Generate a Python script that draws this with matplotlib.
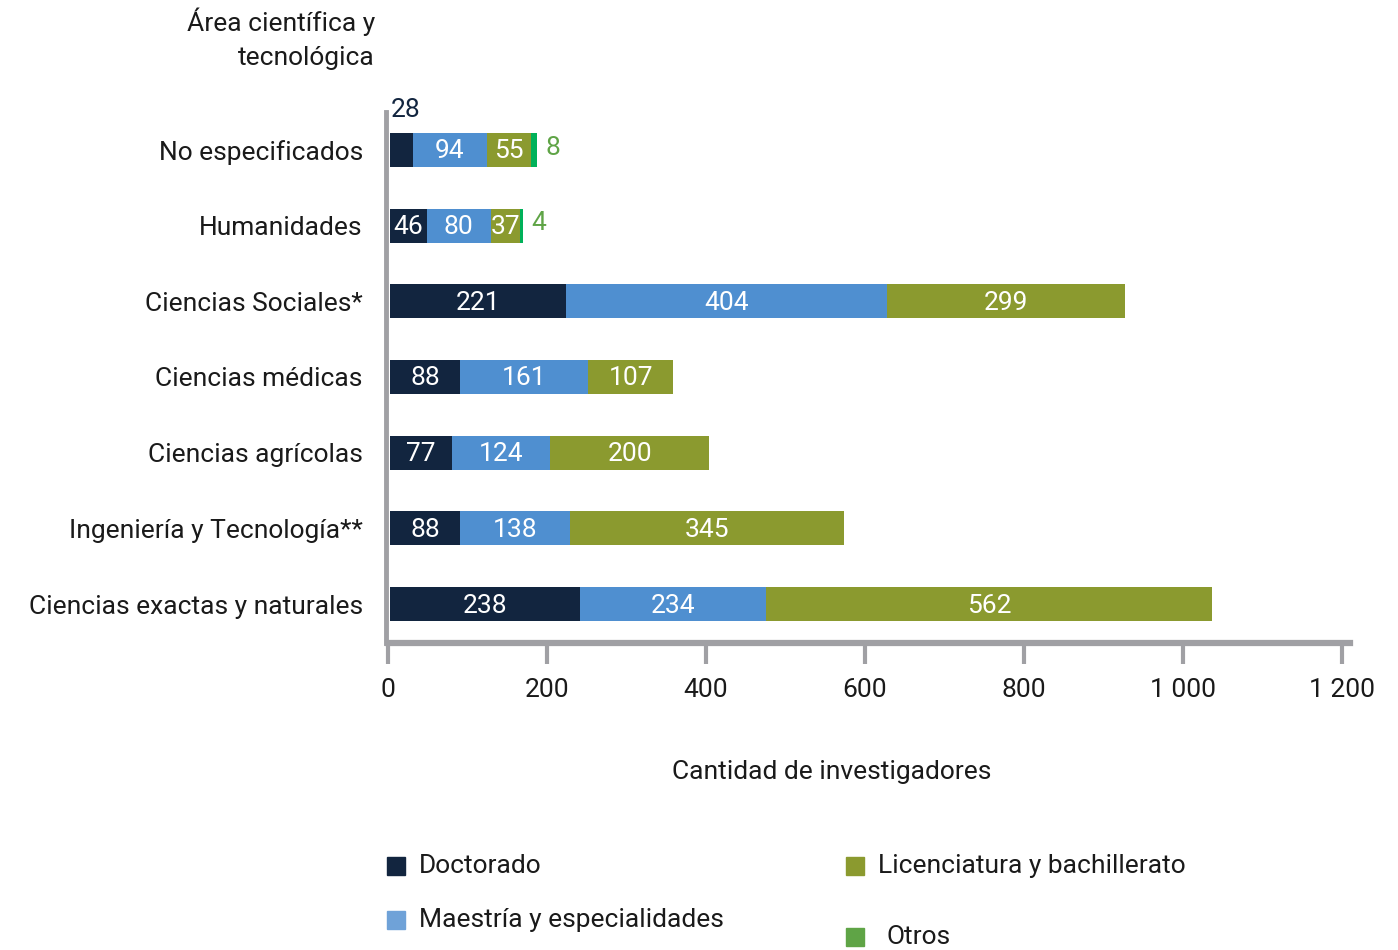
import matplotlib.pyplot as plt
import matplotlib.patches as mpatches
import numpy as np

plt.rcParams['font.family'] = ['Roboto', 'DejaVu Sans']

# datos (de abajo hacia arriba)
areas = ['Ciencias exactas y naturales', 'Ingeniería y Tecnología**', 'Ciencias agrícolas',
         'Ciencias médicas', 'Ciencias Sociales*', 'Humanidades', 'No especificados']
doctorado = [238, 88, 77, 88, 221, 46, 28]
maestria = [234, 138, 124, 161, 404, 80, 94]
licenciatura = [562, 345, 200, 107, 299, 37, 55]
otros = [0, 0, 0, 0, 0, 4, 8]

series = ['Doctorado', 'Maestría y especialidades', 'Licenciatura y bachillerato', 'Otros']
bar_colors = ['#12253f', '#4f8fd0', '#8b9a2f', '#00b15a']
legend_colors = ['#12253f', '#6fa2d8', '#8b9a2f', '#5fa446']
ticks = [0, 200, 400, 600, 800, 1000, 1200]
tick_labels = ['0', '200', '400', '600', '800', '1 000', '1 200']

gray = '#a0a0a4'
text_color = '#1a1a1a'
fs = 19

fig = plt.figure(figsize=(13.98, 9.5), dpi=100)
ax = fig.add_axes([388 / 1398, 1 - 643 / 950, (1350 - 388) / 1398, (643 - 112) / 950])

# ejes primero: set_position reinicia los ticks
for s in ['top', 'right']:
    ax.spines[s].set_visible(False)
ax.spines['bottom'].set_color(gray)
ax.spines['bottom'].set_linewidth(4.5)
ax.spines['left'].set_color(gray)
ax.spines['left'].set_linewidth(3.5)
ax.spines['left'].set_position(('data', -2))

y = np.arange(len(areas))
left = np.zeros(len(areas))
for vals, col in zip([doctorado, maestria, licenciatura, otros], bar_colors):
    vals = np.array(vals)
    ax.barh(y, vals, left=left + 3, height=0.45, color=col, linewidth=0)
    for i, v in enumerate(vals):
        if v == 0:
            continue
        cx = left[i] + 3 + v / 2
        if col == bar_colors[3]:
            ax.text(left[i] + 3 + v + 10, y[i] + 0.03, str(v), color='#5fa446',
                    fontsize=fs, ha='left', va='center')
        elif i == 6 and col == bar_colors[0]:
            ax.text(left[i] + 3, y[i] + 0.52, str(v), color='#12253f',
                    fontsize=fs, ha='left', va='center')
        else:
            ax.text(cx, y[i] - 0.02, str(v), color='white', fontsize=fs,
                    ha='center', va='center')
    left = left + vals

ax.set_xlim(0, 1210)
ax.set_ylim(-0.515, 6.5)
ax.set_yticks(y)
ax.set_yticklabels(areas)
ax.tick_params(axis='y', length=0, pad=17, labelsize=fs, labelcolor=text_color)
ax.set_xticks(ticks)
ax.set_xticklabels(tick_labels)
ax.tick_params(axis='x', length=15, width=3, color=gray, pad=10, labelsize=fs,
               labelcolor=text_color)

fig.text(375 / 1398, 1 - 8 / 950, 'Área científica y\ntecnológica', ha='right', va='top',
         fontsize=fs, color=text_color, linespacing=1.5)
fig.text(832 / 1398, 1 - 772 / 950, 'Cantidad de investigadores', ha='center', va='center',
         fontsize=fs, color=text_color)

# leyenda manual
legend_pos = [(387, 866), (387, 920), (846, 866), (846, 937)]
for (px, py), name, col in zip(legend_pos, series, legend_colors):
    fig.patches.append(mpatches.Rectangle((px / 1398, 1 - (py + 9) / 950), 18 / 1398, 18 / 950,
                                          transform=fig.transFigure, color=col))
    fig.text((px + 32 + (8 if name == 'Otros' else 0)) / 1398, 1 - py / 950, name,
             ha='left', va='center', fontsize=fs, color=text_color)

fig.savefig('out.png', dpi=100)
